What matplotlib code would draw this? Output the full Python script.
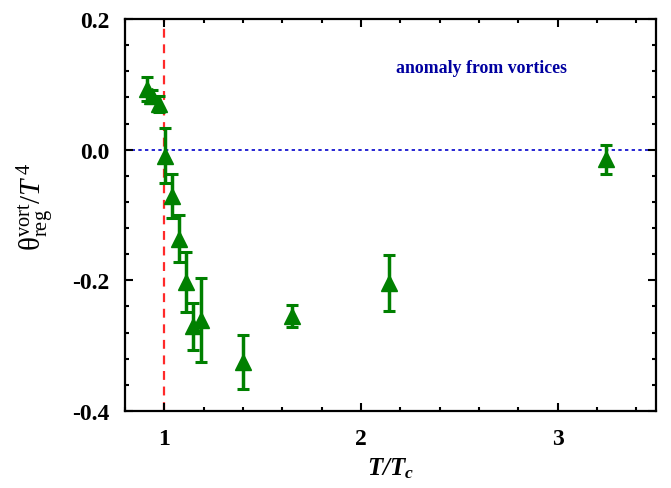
import numpy as np
import matplotlib
matplotlib.use("Agg")
import matplotlib.pyplot as plt
from matplotlib.ticker import MultipleLocator

plt.rcParams['font.family'] = ['Liberation Serif', 'DejaVu Serif']
plt.rcParams['mathtext.fontset'] = 'custom'
plt.rcParams['mathtext.rm'] = 'Liberation Serif'
plt.rcParams['mathtext.it'] = 'Liberation Serif:italic'
plt.rcParams['mathtext.bf'] = 'Liberation Serif:bold'
plt.rcParams['mathtext.bfit'] = 'Liberation Serif:italic:bold'
plt.rcParams['axes.unicode_minus'] = False

# vortex contribution to the regularised trace anomaly
t_ratio = [0.912, 0.937, 0.972, 1.004, 1.038, 1.072, 1.109, 1.148, 1.187, 1.399, 1.649, 2.141, 3.244]
theta = [0.093, 0.082, 0.070, -0.009, -0.071, -0.136, -0.203, -0.270, -0.261, -0.325, -0.255, -0.204, -0.015]
theta_err = [0.018, 0.010, 0.012, 0.042, 0.033, 0.036, 0.046, 0.036, 0.064, 0.041, 0.017, 0.043, 0.022]

fig = plt.figure(figsize=(6.71, 4.89), dpi=100)
ax = fig.add_axes([0.1863, 0.1575, 0.7914, 0.8016])

ax.axhline(0.0, color='#0000cc', ls=(0, (2, 2)), lw=1.2, zorder=1)
ax.axvline(1.0, color='#ff2a2a', ls=(0, (4, 3)), lw=1.6, zorder=1)

ax.errorbar(t_ratio, theta, yerr=theta_err, fmt='^', color='#008000',
            ms=11, elinewidth=2.5, capsize=4, capthick=2.2, zorder=3)

ax.text(2.613, 0.126, 'anomaly from vortices', color='#0000a0',
        fontsize=12.8, fontweight='bold', ha='center', va='center')

ax.set_xlim(0.8, 3.5)
ax.set_ylim(-0.4, 0.2)
ax.xaxis.set_major_locator(MultipleLocator(1))
ax.xaxis.set_minor_locator(MultipleLocator(0.2))
ax.yaxis.set_major_locator(MultipleLocator(0.2))
ax.yaxis.set_minor_locator(MultipleLocator(0.04))
ax.yaxis.set_major_formatter(plt.FuncFormatter(lambda v, p: '%.1f' % (0.0 if abs(v) < 1e-9 else v)))

ax.tick_params(which='both', direction='in', top=True, right=True, width=1.5)
ax.tick_params(which='major', length=6, labelsize=17)
ax.tick_params(axis='x', which='major', pad=12)
ax.tick_params(axis='y', which='major', pad=11)
ax.tick_params(which='minor', length=3)
for lbl in ax.get_xticklabels() + ax.get_yticklabels():
    lbl.set_fontweight('bold')
for sp in ax.spines.values():
    sp.set_linewidth(1.6)

ax.set_xlabel(r'$\mathbfit{T/T_c}$', fontsize=18, labelpad=5)
ax.set_ylabel(r'$\mathrm{θ}^{\mathrm{vort}}_{\mathrm{reg}}/T^{\,\mathit{4}}$', fontsize=21)
ax.yaxis.set_label_coords(-0.128, 0.523)

fig.savefig('out.png', dpi=100)
